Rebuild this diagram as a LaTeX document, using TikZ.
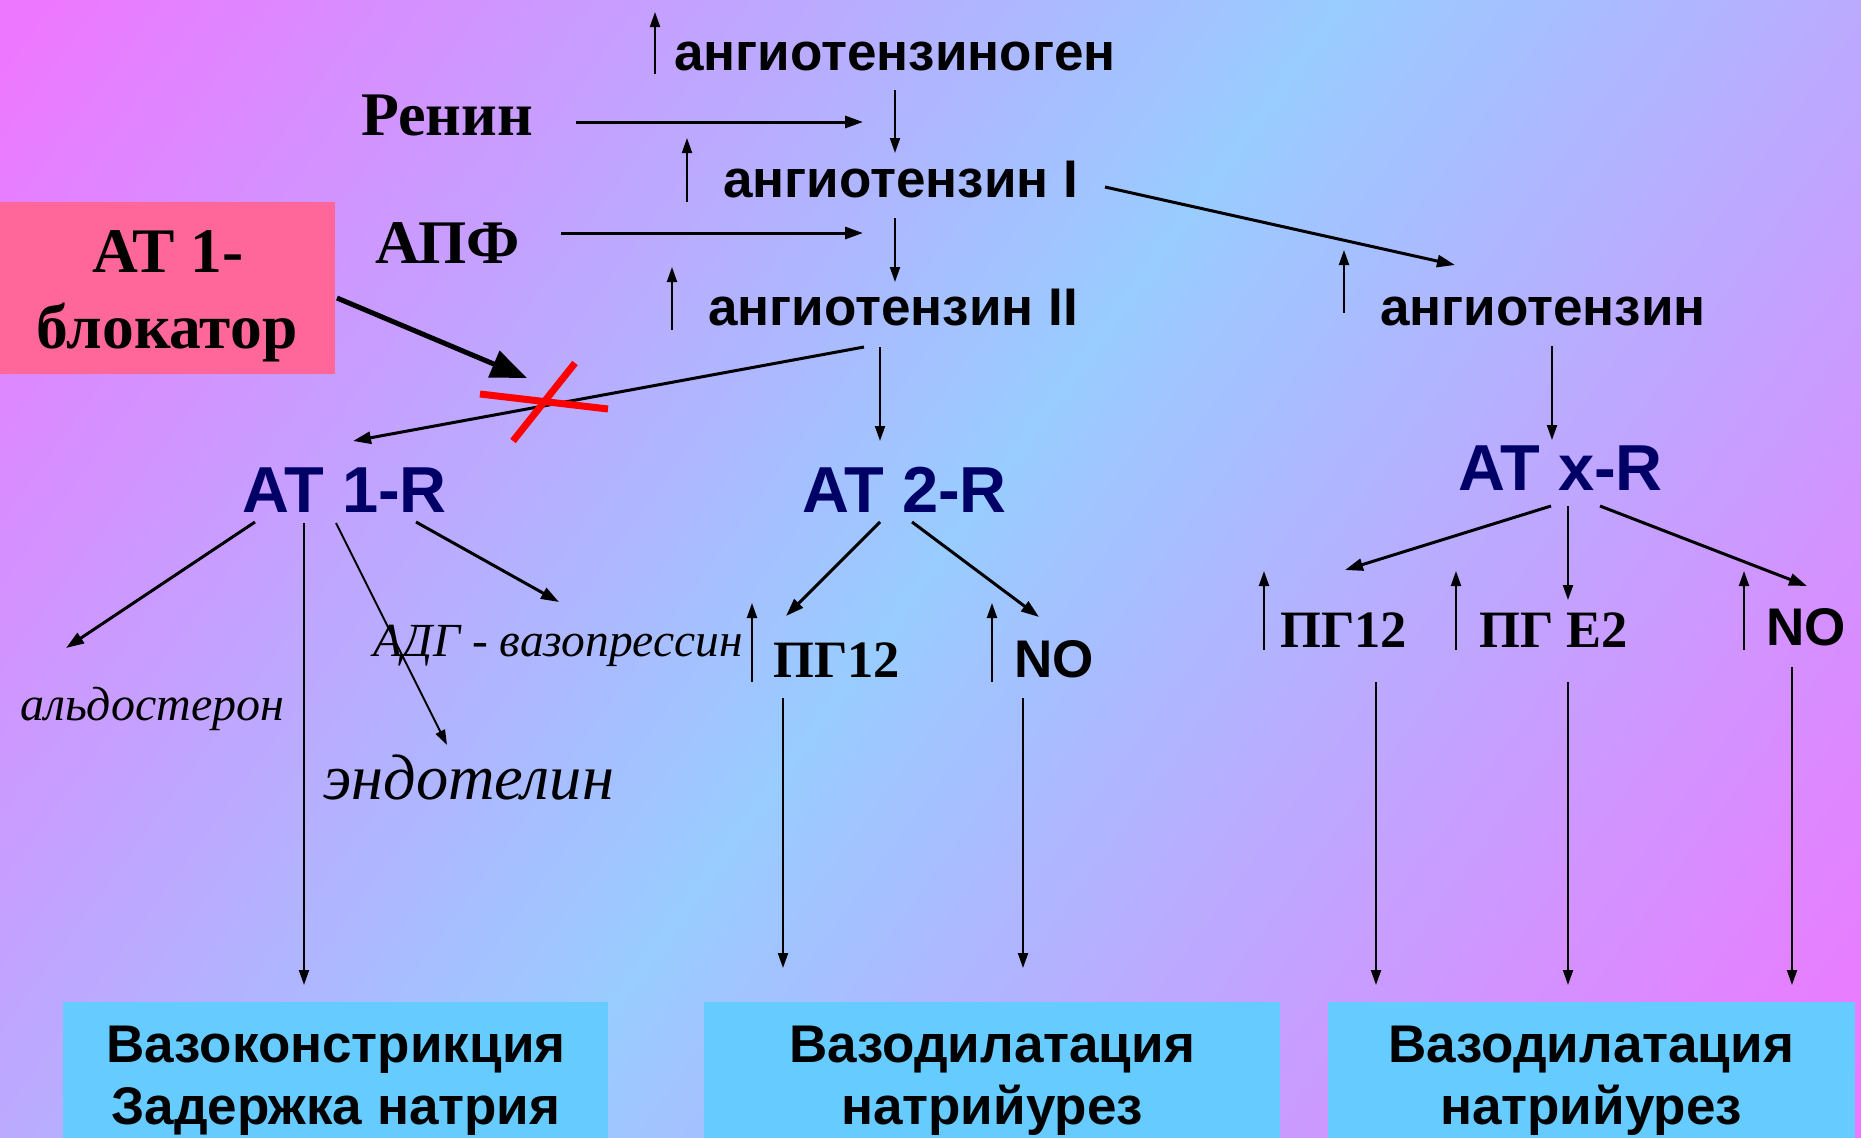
\documentclass[tikz,border=0pt]{standalone}
\usepackage{fontspec}
\setmainfont{Liberation Serif}
\setsansfont{Liberation Sans}
\usetikzlibrary{arrows.meta}
\definecolor{bgpink}{RGB}{238,119,255}
\definecolor{bgblue}{RGB}{153,204,255}
\definecolor{blkpink}{RGB}{255,102,153}
\definecolor{resblue}{RGB}{102,204,255}
\definecolor{navy}{RGB}{0,0,102}
\definecolor{xred}{RGB}{255,0,0}
\pgfdeclarehorizontalshading{bgshade}{100bp}{color(0bp)=(bgpink); color(16bp)=(bgpink); color(50bp)=(bgblue); color(84bp)=(bgpink); color(100bp)=(bgpink)}
\begin{document}
\begin{tikzpicture}[x=1pt,y=-1pt,
  txt/.style={inner sep=0pt, anchor=base west},
  ang/.style={txt, font=\fontsize{53}{60}\selectfont\sffamily\bfseries},
  ser/.style={txt, font=\fontsize{62}{70}\selectfont\rmfamily\bfseries},
  rec/.style={txt, text=navy, font=\fontsize{65}{70}\selectfont\sffamily\bfseries},
  pg/.style={txt, font=\fontsize{52.5}{60}\selectfont\rmfamily\bfseries},
  nosty/.style={txt, font=\fontsize{53}{60}\selectfont\sffamily\bfseries},
  itsm/.style={txt, font=\fontsize{47.5}{52}\selectfont\rmfamily\itshape},
  itmd/.style={txt, font=\fontsize{48}{54}\selectfont\rmfamily\itshape},
  itlg/.style={txt, font=\fontsize{64.4}{70}\selectfont\rmfamily\itshape},
  blkbox/.style={fill=blkpink, inner sep=0pt, anchor=north west},
  blktxt/.style={inner sep=0pt, anchor=base, font=\fontsize{63.5}{70}\selectfont\rmfamily\bfseries},
  resbox/.style={fill=resblue, inner sep=0pt, anchor=north west},
  restxt/.style={inner sep=0pt, anchor=base, font=\fontsize{53}{60}\selectfont\sffamily\bfseries},
  arr/.style={line width=2pt, -{Triangle[length=15pt,width=10pt]}},
  arrh/.style={line width=3pt, -{Triangle[length=18pt,width=12pt]}},
  thick arrow/.style={line width=5pt, -{Triangle[length=36pt,width=28pt]}},
  cross/.style={line width=7pt, draw=xred}
]
\useasboundingbox (0,0) rectangle (1861,1138);
\shade[shading=bgshade, shading angle=-36] (0,0) rectangle (1861,1138);

% ---- text nodes ----
\node[ang] (agen) at (674,70) {ангиотензиноген};
\node[ser] (renin) at (361,135) {Ренин};
\node[ang] (ang1) at (723,197) {ангиотензин I};
\node[ser] (apf) at (375,263) {АПФ};
\node[ang] (ang2) at (708,325) {ангиотензин II};
\node[ang] (angx) at (1380,325) {ангиотензин};

\node[blkbox, minimum width=335pt, minimum height=172pt] (blk) at (0,202) {};
\node[blktxt] (blk1) at (168,272) {АТ 1-};
\node[blktxt] (blk2) at (167,348) {блокатор};

\node[rec] (at1) at (242,512) {AT 1-R};
\node[rec] (at2) at (802,512) {AT 2-R};
\node[rec] (atx) at (1458,490) {AT x-R};

\node[itsm] (adg) at (373,656) {АДГ - вазопрессин};
\node[itmd] (ald) at (20,720) {альдостерон};
\node[itlg] (endo) at (323,799) {эндотелин};

\node[pg] (pgm) at (773,677) {ПГ12};
\node[nosty] (nom) at (1014,677) {NO};
\node[pg] (pgr) at (1280,647) {ПГ12};
\node[pg] (pge) at (1479,647) {ПГ Е2};
\node[nosty] (nor) at (1766,645) {NO};

\node[resbox, minimum width=545pt, minimum height=136pt] (res1) at (63,1002) {};
\node[resbox, minimum width=576pt, minimum height=136pt] (res2) at (704,1002) {};
\node[resbox, minimum width=527pt, minimum height=136pt] (res3) at (1328,1002) {};
\node[restxt] (res1a) at (336,1062) {Вазоконстрикция};
\node[restxt] (res1b) at (336,1124) {Задержка натрия};
\node[restxt] (res2a) at (992,1062) {Вазодилатация};
\node[restxt] (res2b) at (992,1124) {натрийурез};
\node[restxt] (res3a) at (1591,1062) {Вазодилатация};
\node[restxt] (res3b) at (1591,1124) {натрийурез};

% ---- connector end points ----
\coordinate (u1a) at (655,74);   \coordinate (u1b) at (655,12);
\coordinate (rna) at (576,122);  \coordinate (rnb) at (863,122);
\coordinate (d1a) at (895,90);   \coordinate (d1b) at (895,153);
\coordinate (u2a) at (687,202);  \coordinate (u2b) at (687,138);
\coordinate (apa) at (561,233);  \coordinate (apb) at (863,233);
\coordinate (d2a) at (895,218);  \coordinate (d2b) at (895,282);
\coordinate (u3a) at (672,330);  \coordinate (u3b) at (672,267);
\coordinate (xra) at (1105,187); \coordinate (xrb) at (1455,265);
\coordinate (u4a) at (1344,313); \coordinate (u4b) at (1344,250);
\coordinate (dxa) at (1552,346); \coordinate (dxb) at (1552,440);
\coordinate (tka) at (337,298);  \coordinate (tkb) at (527,378);
\coordinate (c1a) at (480,394);  \coordinate (c1b) at (608,409);
\coordinate (c2a) at (513,441);  \coordinate (c2b) at (575,363);
\coordinate (a1a) at (864,347);  \coordinate (a1b) at (353,441);
\coordinate (a2a) at (880,347);  \coordinate (a2b) at (880,441);
\coordinate (p1a) at (255,522);  \coordinate (p1b) at (66,648);
\coordinate (p2a) at (304,523);  \coordinate (p2b) at (304,985);
\coordinate (p3a) at (336,523);  \coordinate (p3b) at (447,745);
\coordinate (p4a) at (416,522);  \coordinate (p4b) at (559,602);
\coordinate (q1a) at (880,522);  \coordinate (q1b) at (786,616);
\coordinate (q2a) at (912,522);  \coordinate (q2b) at (1039,617);
\coordinate (v1a) at (752,682);  \coordinate (v1b) at (752,603);
\coordinate (v2a) at (992,682);  \coordinate (v2b) at (992,603);
\coordinate (w1a) at (783,698);  \coordinate (w1b) at (783,968);
\coordinate (w2a) at (1023,698); \coordinate (w2b) at (1023,968);
\coordinate (x1a) at (1551,506); \coordinate (x1b) at (1345,570);
\coordinate (x2a) at (1568,506); \coordinate (x2b) at (1568,600);
\coordinate (x3a) at (1600,506); \coordinate (x3b) at (1807,586);
\coordinate (y1a) at (1264,650); \coordinate (y1b) at (1264,571);
\coordinate (y2a) at (1456,650); \coordinate (y2b) at (1456,571);
\coordinate (y3a) at (1744,650); \coordinate (y3b) at (1744,571);
\coordinate (z1a) at (1376,682); \coordinate (z1b) at (1376,985);
\coordinate (z2a) at (1568,682); \coordinate (z2b) at (1568,985);
\coordinate (z3a) at (1792,667); \coordinate (z3b) at (1792,985);

% ---- connectors ----
\draw[arr] (u1a) -- (u1b);
\draw[arrh] (rna) -- (rnb);
\draw[arr] (d1a) -- (d1b);
\draw[arr] (u2a) -- (u2b);
\draw[arrh] (apa) -- (apb);
\draw[arr] (d2a) -- (d2b);
\draw[arr] (u3a) -- (u3b);
\draw[arrh] (xra) -- (xrb);
\draw[arr] (u4a) -- (u4b);
\draw[arr] (dxa) -- (dxb);
\draw[thick arrow] (tka) -- (tkb);
\draw[arrh] (a1a) -- (a1b);
\draw[arr] (a2a) -- (a2b);
\draw[cross] (c1a) -- (c1b);
\draw[cross] (c2a) -- (c2b);
\draw[arrh] (p1a) -- (p1b);
\draw[arr] (p2a) -- (p2b);
\draw[arr] (p3a) -- (p3b);
\draw[arrh] (p4a) -- (p4b);
\draw[arrh] (q1a) -- (q1b);
\draw[arrh] (q2a) -- (q2b);
\draw[arr] (v1a) -- (v1b);
\draw[arr] (v2a) -- (v2b);
\draw[arr] (w1a) -- (w1b);
\draw[arr] (w2a) -- (w2b);
\draw[arrh] (x1a) -- (x1b);
\draw[arr] (x2a) -- (x2b);
\draw[arrh] (x3a) -- (x3b);
\draw[arr] (y1a) -- (y1b);
\draw[arr] (y2a) -- (y2b);
\draw[arr] (y3a) -- (y3b);
\draw[arr] (z1a) -- (z1b);
\draw[arr] (z2a) -- (z2b);
\draw[arr] (z3a) -- (z3b);
\end{tikzpicture}
\end{document}
